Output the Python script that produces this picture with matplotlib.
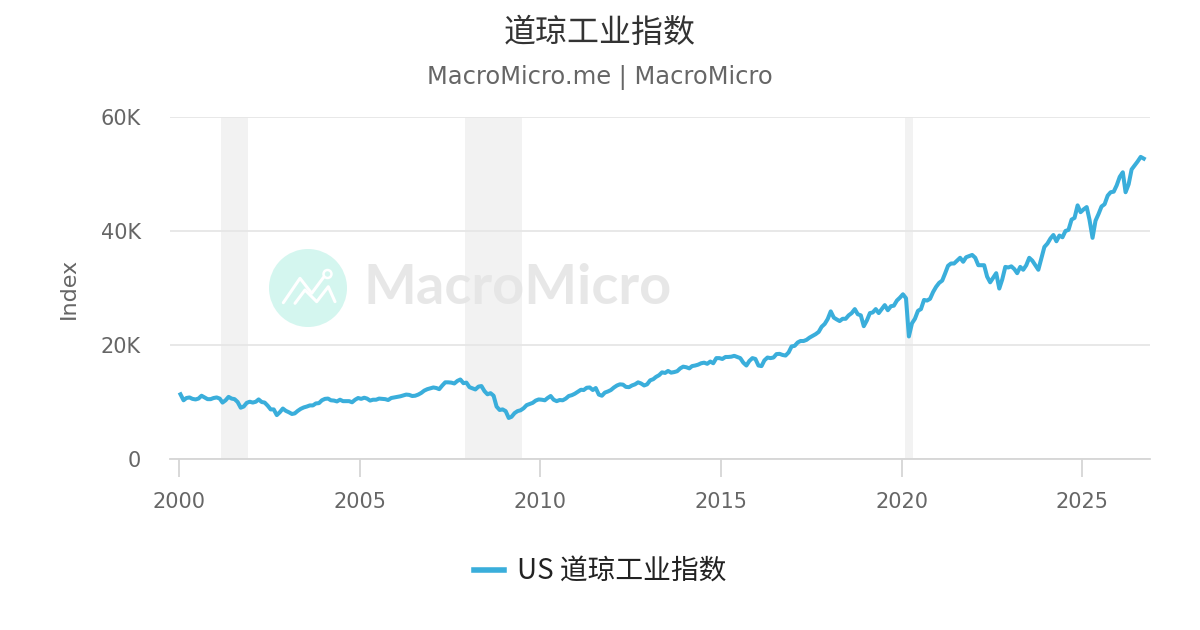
import numpy as np
import pandas as pd
import matplotlib
matplotlib.use('Agg')
import matplotlib.pyplot as plt
import matplotlib.dates as mdates
from matplotlib.patches import Ellipse
from matplotlib.lines import Line2D

# monthly levels (index points), Jan 2000 .. Sep 2026
dow = {
    2000: [11350, 10300, 10700, 10800, 10550, 10450, 10600, 11100, 10800, 10500, 10500, 10700],
    2001: [10800, 10600, 9900, 10300, 10900, 10600, 10500, 10000, 9000, 9200, 9850, 10050],
    2002: [9900, 10050, 10450, 10000, 9900, 9350, 8700, 8700, 7700, 8200, 8850, 8450],
    2003: [8200, 7900, 8000, 8450, 8800, 9050, 9200, 9400, 9400, 9750, 9800, 10300],
    2004: [10550, 10600, 10300, 10250, 10100, 10400, 10150, 10150, 10150, 9950, 10400, 10700],
    2005: [10550, 10750, 10600, 10250, 10400, 10400, 10600, 10550, 10500, 10350, 10700, 10800],
    2006: [10900, 11000, 11150, 11300, 11250, 11050, 11100, 11300, 11600, 12000, 12250, 12400],
    2007: [12550, 12450, 12250, 12900, 13450, 13450, 13400, 13250, 13700, 13950, 13300, 13400],
    2008: [12600, 12400, 12200, 12700, 12800, 11900, 11350, 11550, 11100, 9200, 8600, 8700],
    2009: [8400, 7200, 7400, 8050, 8400, 8550, 8900, 9450, 9650, 9850, 10250, 10450],
    2010: [10400, 10300, 10700, 11050, 10400, 10150, 10350, 10300, 10600, 11050, 11200, 11450],
    2011: [11800, 12150, 12100, 12500, 12550, 12100, 12450, 11300, 11100, 11650, 11850, 12100],
    2012: [12550, 12900, 13100, 13050, 12650, 12600, 12900, 13100, 13450, 13250, 12900, 13100],
    2013: [13800, 14000, 14400, 14700, 15200, 15100, 15450, 15150, 15250, 15400, 15900, 16200],
    2014: [16100, 15900, 16300, 16400, 16550, 16800, 16900, 16700, 17100, 16800, 17700, 17700],
    2015: [17550, 17900, 17900, 17950, 18100, 17900, 17700, 16900, 16400, 17200, 17700, 17550],
    2016: [16400, 16300, 17300, 17800, 17700, 17800, 18400, 18450, 18250, 18150, 18700, 19750],
    2017: [19850, 20450, 20700, 20700, 20900, 21300, 21600, 21900, 22300, 23200, 23700, 24550],
    2018: [25900, 24800, 24500, 24200, 24600, 24600, 25200, 25600, 26300, 25400, 25200, 23300],
    2019: [24300, 25600, 25700, 26300, 25600, 26300, 27000, 26100, 26800, 26900, 27800, 28300],
    2020: [28900, 28200, 21500, 23800, 24600, 26000, 26300, 27900, 27800, 28100, 29300, 30200],
    2021: [30900, 31300, 32500, 33900, 34300, 34300, 34800, 35300, 34600, 35400, 35600, 35800],
    2022: [35300, 34000, 34000, 34000, 32000, 31000, 31800, 32600, 29900, 31500, 33700, 33600],
    2023: [33800, 33300, 32600, 33700, 33200, 34000, 35300, 34800, 34000, 33200, 35200, 37200],
    2024: [37800, 38700, 39300, 38200, 39200, 38900, 40000, 40200, 42000, 42300, 44500, 43300],
    2025: [43800, 44200, 42000, 38800, 41800, 43000, 44300, 44700, 46200, 46800, 46900, 48000],
    2026: [49500, 50300, 46800, 48200, 50800, 51500, 52200, 53000, 52700],
}
values = [v for yr in sorted(dow) for v in dow[yr]]
dates = pd.date_range('2000-01-01', periods=len(values), freq='MS') + pd.Timedelta(days=14)

# US recessions (NBER)
recessions = [('2001-03-01', '2001-11-30'), ('2007-12-01', '2009-06-30'), ('2020-02-01', '2020-04-30')]

title = '道琼工业指数'
subtitle = 'MacroMicro.me | MacroMicro'
series_name = 'US 道琼工业指数'
yticks = [0, 20000, 40000, 60000]
yticklabels = ['0', '20K', '40K', '60K']
years = [2000, 2005, 2010, 2015, 2020, 2025]

cjk = ['Noto Sans CJK SC', 'DejaVu Sans']
line_color = '#3aaedb'
grey = '#666666'

W, H = 1200, 630
fig = plt.figure(figsize=(12, 6.3), dpi=100)
ax = fig.add_axes([170 / W, 1 - 459 / H, 980 / W, 342 / H])

for a, b in recessions:
    ax.axvspan(pd.Timestamp(a), pd.Timestamp(b), color='#f2f2f2', lw=0, zorder=0)

# watermark
ax.add_patch(Ellipse((308 / W, 1 - 288 / H), 78 / W, 78 / H, transform=fig.transFigure,
                     color='#d4f6ef', lw=0, zorder=1))
l1x = [283.3, 300, 311.7, 324]
l1y = [302.7, 278.3, 293.3, 276.7]
l2x = [295, 305, 316.7, 328.3, 335]
l2y = [303.3, 290, 301.7, 286.7, 301.7]
for lx, ly in [(l1x, l1y), (l2x, l2y)]:
    ax.add_line(Line2D([x / W for x in lx], [1 - y / H for y in ly], transform=fig.transFigure,
                       color='white', lw=2.2, solid_capstyle='round', zorder=1.1))
ax.add_patch(Ellipse((327.5 / W, 1 - 274 / H), 8 / W, 8 / H, transform=fig.transFigure,
                     facecolor='#d4f6ef', edgecolor='white', lw=1.8, zorder=1.2))
ax.text(363 / W, 1 - 288 / H, 'MacroMicro', transform=fig.transFigure, fontsize=40.3,
        fontfamily='Lato', fontweight='bold', color='#e5e5e5', alpha=0.9,
        ha='left', va='center', zorder=1.3)

ax.plot(dates, values, color=line_color, lw=2.9, zorder=3, label=series_name)

ax.set_ylim(0, 60000)
ax.set_xlim(pd.Timestamp('1999-10-01'), pd.Timestamp('2026-11-17'))
ax.set_yticks(yticks)
ax.set_yticklabels(yticklabels)
ax.set_xticks([pd.Timestamp(f'{y}-01-01') for y in years])
ax.xaxis.set_major_formatter(mdates.DateFormatter('%Y'))
ax.grid(axis='y', color='#e6e6e6', lw=1.3, zorder=0.5)
ax.set_axisbelow(True)
for s in ['left', 'right', 'top']:
    ax.spines[s].set_visible(False)
ax.spines['bottom'].set_color('#d6d6d6')
ax.spines['bottom'].set_linewidth(1.3)
ax.tick_params(axis='y', length=0, pad=21, labelsize=15, labelcolor=grey)
ax.tick_params(axis='x', length=13, width=1.3, color='#d6d6d6', pad=11, labelsize=15, labelcolor=grey)
ax.set_ylabel('Index', fontsize=16, color=grey)
ax.yaxis.set_label_coords((79 - 170) / 980, 0.5)

fig.text(0.5, 1 - 33 / H, title, ha='center', va='center', fontsize=23, color='#333333', family=cjk)
fig.text(0.5, 1 - 78 / H, subtitle, ha='center', va='center', fontsize=17.4, color=grey)

leg = ax.legend(loc='center', bbox_to_anchor=(0.5, 1 - 572 / H), bbox_transform=fig.transFigure,
                frameon=False, handlelength=1.1, handletextpad=0.45, prop={'family': cjk, 'size': 20})
for h in leg.get_lines():
    h.set_linewidth(4)
for t in leg.get_texts():
    t.set_color('#222222')

fig.savefig('out.png', dpi=100)
